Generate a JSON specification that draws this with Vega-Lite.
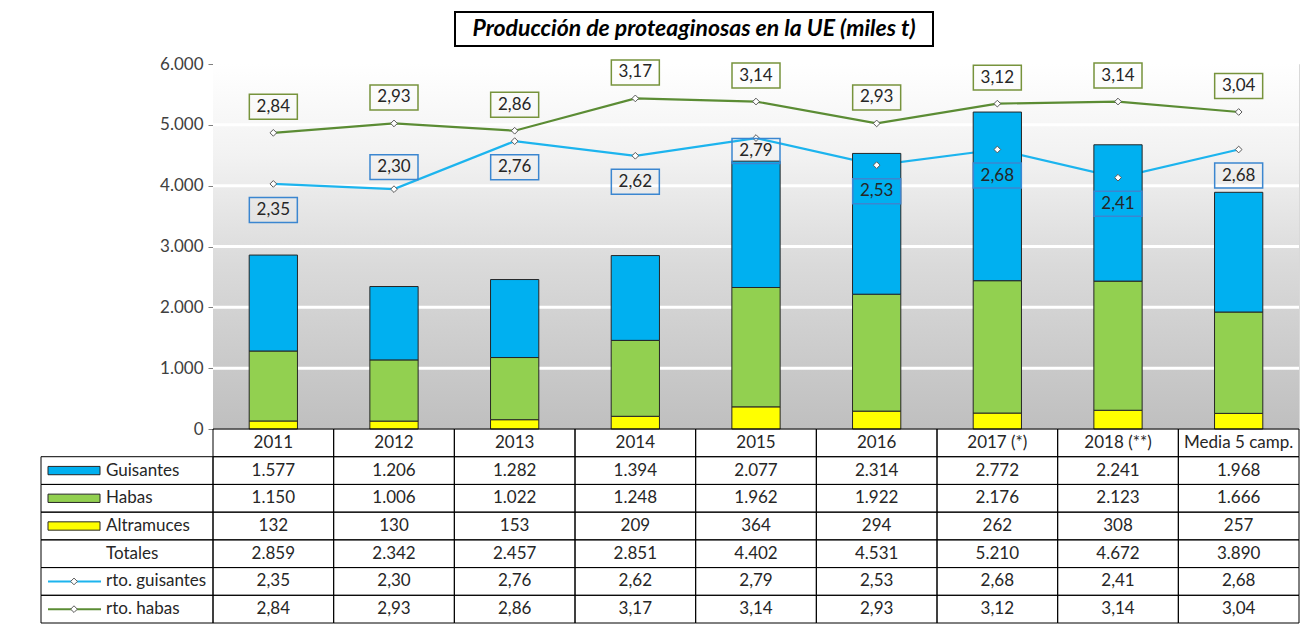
{
  "$schema": "https://vega.github.io/schema/vega-lite/v6.json",
  "padding": {"left": 40, "top": 11, "right": 0, "bottom": 0},
  "background": "white",
  "datasets": {
    "d": [
      {"camp": "2011", "Guisantes": 1577, "Habas": 1150, "Altramuces": 132, "Totales": 2859, "rg": 2.35, "rh": 2.84},
      {"camp": "2012", "Guisantes": 1206, "Habas": 1006, "Altramuces": 130, "Totales": 2342, "rg": 2.30, "rh": 2.93},
      {"camp": "2013", "Guisantes": 1282, "Habas": 1022, "Altramuces": 153, "Totales": 2457, "rg": 2.76, "rh": 2.86},
      {"camp": "2014", "Guisantes": 1394, "Habas": 1248, "Altramuces": 209, "Totales": 2851, "rg": 2.62, "rh": 3.17},
      {"camp": "2015", "Guisantes": 2077, "Habas": 1962, "Altramuces": 364, "Totales": 4402, "rg": 2.79, "rh": 3.14},
      {"camp": "2016", "Guisantes": 2314, "Habas": 1922, "Altramuces": 294, "Totales": 4531, "rg": 2.53, "rh": 2.93},
      {"camp": "2017 (*)", "Guisantes": 2772, "Habas": 2176, "Altramuces": 262, "Totales": 5210, "rg": 2.68, "rh": 3.12},
      {"camp": "2018 (**)", "Guisantes": 2241, "Habas": 2123, "Altramuces": 308, "Totales": 4672, "rg": 2.41, "rh": 3.14},
      {"camp": "Media 5 camp.", "Guisantes": 1968, "Habas": 1666, "Altramuces": 257, "Totales": 3890, "rg": 2.68, "rh": 3.04}
    ],
    "series": [
      {"serie": "Guisantes", "t": "b"},
      {"serie": "Habas", "t": "b"},
      {"serie": "Altramuces", "t": "b"},
      {"serie": "Totales", "t": "n"},
      {"serie": "rto. guisantes", "t": "l"},
      {"serie": "rto. habas", "t": "l"}
    ]
  },
  "spacing": 7,
  "vconcat": [
    {
      "bounds": "flush",
      "spacing": 0,
      "hconcat": [
        {"width": 414, "height": 34, "data": {"values": []}, "mark": "point"},
        {
          "width": 478, "height": 34,
          "data": {"values": [{}]},
          "view": {"stroke": "#000000", "strokeWidth": 2, "fill": "white"},
          "mark": {"type": "text", "text": "Producción de proteaginosas en la UE (miles t)", "font": "Lato", "fontSize": 23, "fontWeight": "bold", "fontStyle": "italic", "color": "#000000"}
        }
      ]
    },
    {
      "columns": 2,
      "bounds": "flush",
      "spacing": 0,
      "concat": [
        {"width": 172, "height": 365, "data": {"values": []}, "mark": "point"},
        {
          "width": 1086, "height": 365,
          "data": {"name": "d"},
          "view": {"stroke": "#d9d9d9", "strokeWidth": 1},
          "resolve": {"scale": {"y": "independent"}},
          "layer": [
            {
              "data": {"values": [{}]},
              "mark": {"type": "rect", "fill": {"gradient": "linear", "x1": 0, "y1": 0, "x2": 0, "y2": 1, "stops": [{"offset": 0, "color": "#ffffff"}, {"offset": 0.25, "color": "#f2f2f2"}, {"offset": 0.55, "color": "#dadada"}, {"offset": 1, "color": "#bfbfbf"}]}},
              "encoding": {
                "y": {"datum": 6000, "type": "quantitative", "scale": {"domain": [0, 6000], "nice": false}, "axis": null},
                "y2": {"datum": 0}
              }
            },
            {
              "data": {"values": [{"g": 1000}, {"g": 2000}, {"g": 3000}, {"g": 4000}, {"g": 5000}]},
              "mark": {"type": "rule", "color": "#ffffff", "strokeWidth": 3},
              "encoding": {
                "y": {"field": "g", "type": "quantitative", "scale": {"domain": [0, 6000], "nice": false}, "axis": null}
              }
            },
            {
              "mark": {"type": "line", "color": "#1cb4ee", "strokeWidth": 2.2},
              "encoding": {
                "x": {"field": "camp", "type": "nominal", "sort": null, "scale": {"paddingInner": 0, "paddingOuter": 0}, "axis": null},
                "y": {"field": "rg", "type": "quantitative", "scale": {"domain": [0, 3.5], "nice": false}, "axis": null}
              }
            },
            {
              "transform": [
                {"fold": ["Altramuces", "Habas", "Guisantes"], "as": ["serie", "valor"]},
                {"window": [{"op": "row_number", "as": "orden"}], "groupby": ["camp"]}
              ],
              "mark": {"type": "bar", "width": {"band": 0.4}, "stroke": "#262626", "strokeWidth": 1},
              "encoding": {
                "x": {"field": "camp", "type": "nominal", "sort": null, "scale": {"paddingInner": 0, "paddingOuter": 0}, "axis": null},
                "y": {"field": "valor", "type": "quantitative", "stack": "zero", "scale": {"domain": [0, 6000], "nice": false},
                  "axis": {"orient": "left", "values": [0, 1000, 2000, 3000, 4000, 5000, 6000], "format": ",.0f", "title": null, "grid": false, "labelFont": "Lato", "labelFontSize": 17, "labelColor": "#404040", "domainColor": "#7f7f7f", "tickColor": "#7f7f7f", "tickSize": 5, "labelPadding": 5}},
                "color": {"field": "serie", "type": "nominal", "scale": {"domain": ["Guisantes", "Habas", "Altramuces"], "range": ["#00b0f0", "#92d050", "#ffff00"]}, "legend": null},
                "order": {"field": "orden", "type": "quantitative"}
              }
            },
            {
              "mark": {"type": "line", "color": "#5b8c34", "strokeWidth": 2.2},
              "encoding": {
                "x": {"field": "camp", "type": "nominal", "sort": null, "scale": {"paddingInner": 0, "paddingOuter": 0}, "axis": null},
                "y": {"field": "rh", "type": "quantitative", "scale": {"domain": [0, 3.5], "nice": false}, "axis": null}
              }
            },
            {
              "transform": [{"fold": ["rg", "rh"], "as": ["s", "v"]}],
              "mark": {"type": "point", "shape": "diamond", "filled": true, "fill": "#ffffff", "stroke": "#595959", "strokeWidth": 1, "size": 45, "opacity": 1},
              "encoding": {
                "x": {"field": "camp", "type": "nominal", "sort": null, "scale": {"paddingInner": 0, "paddingOuter": 0}, "axis": null},
                "y": {"field": "v", "type": "quantitative", "scale": {"domain": [0, 3.5], "nice": false}, "axis": null}
              }
            },
            {
              "mark": {"type": "point", "shape": "M-1,-0.52H1V0.52H-1Z", "size": 2304, "filled": false, "stroke": "#77933c", "strokeWidth": 1.5, "opacity": 1, "yOffset": -26},
              "encoding": {
                "x": {"field": "camp", "type": "nominal", "sort": null, "scale": {"paddingInner": 0, "paddingOuter": 0}, "axis": null},
                "y": {"field": "rh", "type": "quantitative", "scale": {"domain": [0, 3.5], "nice": false}, "axis": null}
              }
            },
            {
              "mark": {"type": "text", "font": "Lato", "fontSize": 17, "color": "#262626", "yOffset": -26},
              "encoding": {
                "x": {"field": "camp", "type": "nominal", "sort": null, "scale": {"paddingInner": 0, "paddingOuter": 0}, "axis": null},
                "y": {"field": "rh", "type": "quantitative", "scale": {"domain": [0, 3.5], "nice": false}, "axis": null},
                "text": {"field": "rh", "type": "quantitative", "format": ".2f"}
              }
            },
            {
              "mark": {"type": "point", "shape": "M-1,-0.52H1V0.52H-1Z", "size": 2304, "filled": false, "stroke": "#3b86d0", "strokeWidth": 1.5, "opacity": 1,
                "yOffset": {"expr": "datum.camp == '2012' ? -22 : (datum.camp == '2015' ? 13 : 26)"}},
              "encoding": {
                "x": {"field": "camp", "type": "nominal", "sort": null, "scale": {"paddingInner": 0, "paddingOuter": 0}, "axis": null},
                "y": {"field": "rg", "type": "quantitative", "scale": {"domain": [0, 3.5], "nice": false}, "axis": null}
              }
            },
            {
              "mark": {"type": "text", "font": "Lato", "fontSize": 17, "color": "#262626",
                "yOffset": {"expr": "datum.camp == '2012' ? -22 : (datum.camp == '2015' ? 13 : 26)"}},
              "encoding": {
                "x": {"field": "camp", "type": "nominal", "sort": null, "scale": {"paddingInner": 0, "paddingOuter": 0}, "axis": null},
                "y": {"field": "rg", "type": "quantitative", "scale": {"domain": [0, 3.5], "nice": false}, "axis": null},
                "text": {"field": "rg", "type": "quantitative", "format": ".2f"}
              }
            }
          ]
        },
        {
          "width": 172, "height": 194,
          "data": {"name": "series"},
          "layer": [
            {
              "mark": {"type": "rect", "filled": false, "stroke": "#000000", "strokeWidth": 1},
              "encoding": {
                "y": {"field": "serie", "type": "nominal", "scale": {"domain": ["hdr", "Guisantes", "Habas", "Altramuces", "Totales", "rto. guisantes", "rto. habas"], "paddingInner": 0, "paddingOuter": 0}, "axis": null}
              }
            },
            {
              "transform": [{"filter": "datum.t == 'b'"}],
              "mark": {"type": "point", "shape": "M-1,-0.16H1V0.16H-1Z", "size": 2704, "filled": true, "stroke": "#262626", "strokeWidth": 1, "opacity": 1, "xOffset": -53},
              "encoding": {
                "y": {"field": "serie", "type": "nominal", "scale": {"domain": ["hdr", "Guisantes", "Habas", "Altramuces", "Totales", "rto. guisantes", "rto. habas"], "paddingInner": 0, "paddingOuter": 0}, "axis": null},
                "color": {"field": "serie", "type": "nominal", "scale": {"domain": ["Guisantes", "Habas", "Altramuces"], "range": ["#00b0f0", "#92d050", "#ffff00"]}, "legend": null}
              }
            },
            {
              "transform": [{"filter": "datum.serie == 'rto. guisantes'"}],
              "mark": {"type": "point", "shape": "M-1,0H1", "size": 2809, "filled": false, "stroke": "#1cb4ee", "strokeWidth": 2, "opacity": 1, "xOffset": -52.5},
              "encoding": {
                "y": {"field": "serie", "type": "nominal", "scale": {"domain": ["hdr", "Guisantes", "Habas", "Altramuces", "Totales", "rto. guisantes", "rto. habas"], "paddingInner": 0, "paddingOuter": 0}, "axis": null}
              }
            },
            {
              "transform": [{"filter": "datum.serie == 'rto. habas'"}],
              "mark": {"type": "point", "shape": "M-1,0H1", "size": 2809, "filled": false, "stroke": "#5b8c34", "strokeWidth": 2, "opacity": 1, "xOffset": -52.5},
              "encoding": {
                "y": {"field": "serie", "type": "nominal", "scale": {"domain": ["hdr", "Guisantes", "Habas", "Altramuces", "Totales", "rto. guisantes", "rto. habas"], "paddingInner": 0, "paddingOuter": 0}, "axis": null}
              }
            },
            {
              "transform": [{"filter": "datum.t == 'l'"}],
              "mark": {"type": "point", "shape": "diamond", "filled": true, "fill": "#ffffff", "stroke": "#595959", "strokeWidth": 1, "size": 45, "opacity": 1, "xOffset": -53},
              "encoding": {
                "y": {"field": "serie", "type": "nominal", "scale": {"domain": ["hdr", "Guisantes", "Habas", "Altramuces", "Totales", "rto. guisantes", "rto. habas"], "paddingInner": 0, "paddingOuter": 0}, "axis": null}
              }
            },
            {
              "mark": {"type": "text", "align": "left", "dx": -21, "font": "Lato", "fontSize": 17, "color": "#262626"},
              "encoding": {
                "y": {"field": "serie", "type": "nominal", "scale": {"domain": ["hdr", "Guisantes", "Habas", "Altramuces", "Totales", "rto. guisantes", "rto. habas"], "paddingInner": 0, "paddingOuter": 0}, "axis": null},
                "text": {"field": "serie", "type": "nominal"}
              }
            }
          ]
        },
        {
          "width": 1086, "height": 194,
          "data": {"name": "d"},
          "layer": [
            {
              "transform": [{"fold": ["Guisantes", "Habas", "Altramuces", "Totales", "rg", "rh"], "as": ["serie", "valor"]}],
              "mark": {"type": "rect", "filled": false, "stroke": "#000000", "strokeWidth": 1},
              "encoding": {
                "x": {"field": "camp", "type": "nominal", "sort": null, "scale": {"paddingInner": 0, "paddingOuter": 0}, "axis": null},
                "y": {"field": "serie", "type": "nominal", "scale": {"domain": ["hdr", "Guisantes", "Habas", "Altramuces", "Totales", "rg", "rh"], "paddingInner": 0, "paddingOuter": 0}, "axis": null}
              }
            },
            {
              "mark": {"type": "rect", "filled": false, "stroke": "#000000", "strokeWidth": 1},
              "encoding": {
                "x": {"field": "camp", "type": "nominal", "sort": null, "scale": {"paddingInner": 0, "paddingOuter": 0}, "axis": null},
                "y": {"datum": "hdr", "type": "nominal"}
              }
            },
            {
              "mark": {"type": "text", "font": "Lato", "fontSize": 17, "color": "#262626"},
              "encoding": {
                "x": {"field": "camp", "type": "nominal", "sort": null, "scale": {"paddingInner": 0, "paddingOuter": 0}, "axis": null},
                "y": {"datum": "hdr", "type": "nominal"},
                "text": {"field": "camp", "type": "nominal"}
              }
            },
            {
              "transform": [{"fold": ["Guisantes", "Habas", "Altramuces", "Totales"], "as": ["serie", "valor"]}],
              "mark": {"type": "text", "font": "Lato", "fontSize": 17, "color": "#262626"},
              "encoding": {
                "x": {"field": "camp", "type": "nominal", "sort": null, "scale": {"paddingInner": 0, "paddingOuter": 0}, "axis": null},
                "y": {"field": "serie", "type": "nominal"},
                "text": {"field": "valor", "type": "quantitative", "format": ",.0f"}
              }
            },
            {
              "transform": [{"fold": ["rg", "rh"], "as": ["serie", "valor"]}],
              "mark": {"type": "text", "font": "Lato", "fontSize": 17, "color": "#262626"},
              "encoding": {
                "x": {"field": "camp", "type": "nominal", "sort": null, "scale": {"paddingInner": 0, "paddingOuter": 0}, "axis": null},
                "y": {"field": "serie", "type": "nominal"},
                "text": {"field": "valor", "type": "quantitative", "format": ".2f"}
              }
            }
          ]
        }
      ]
    }
  ],
  "config": {
    "view": {"stroke": null},
    "font": "Lato",
    "text": {"font": "Lato", "fontSize": 17, "color": "#262626"},
    "locale": {"number": {"decimal": ",", "thousands": ".", "grouping": [3], "currency": ["", " €"]}}
  }
}
